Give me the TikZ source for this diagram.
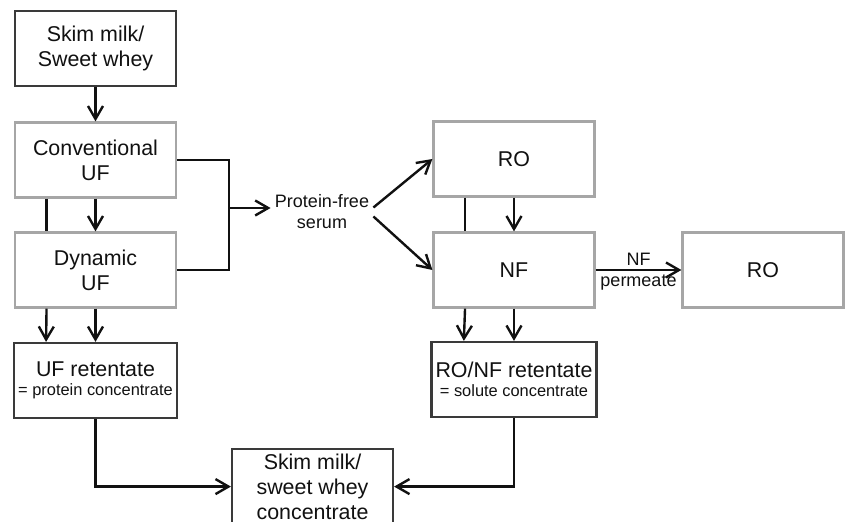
\documentclass[tikz,border=0pt]{standalone}
\usepackage{fontspec}
\setmainfont{Liberation Sans}
\usepackage{xcolor}
\usepackage{tikz}
\usetikzlibrary{arrows.meta,calc,positioning}
\definecolor{dfInk}{HTML}{111111}
\definecolor{dfEdge}{HTML}{3A3A3A}
\definecolor{dfUnit}{HTML}{A6A6A6}
\newcommand{\dfsmall}{\fontsize{8.2}{9.5}\selectfont}
\tikzset{
  df diagram/.style={x=0.5pt, y=-0.5pt, font=\fontsize{10.7}{12.5}\selectfont,
    text=dfInk},
  df box/.style={draw=dfEdge, fill=white, line width=1.1pt, align=center,
    minimum width=80.5pt, minimum height=37.5pt, inner sep=2pt},
  df unit/.style={df box, draw=dfUnit},
  df line/.style={draw=dfInk, line width=1.2pt},
  df arrow/.style={df line, -{Straight Barb[length=6.5pt,width=7.5pt]}},
  df label/.style={font=\fontsize{9}{10.5}\selectfont, align=center}
}

\begin{document}
\begin{tikzpicture}[df diagram]
\clip (0,0) rectangle (846,522);
\node[df box] (feed) at (95.5,48.5) {Skim milk/\\Sweet whey};
\node[df unit] (conv) at (95.5,160) {Conventional\\UF};
\node[df unit] (dyn) at (95.5,270) {Dynamic\\UF};
\node[df box] (ufret) at (95.5,380.5) {UF retentate\\[-3pt]{\dfsmall = protein concentrate}};
\node[df label, inner sep=2pt] (serum) at (322,212) {Protein-free\\serum};
\node[df unit] (ro) at (514,159) {RO};
\node[df unit] (nf) at (514,270) {NF};
\node[df unit] (polish) at (763,270) {RO};
\node[df box] (noret) at (514,379.5) {RO/NF retentate\\[-3pt]{\dfsmall = solute concentrate}};
\node[df box, anchor=north] (product) at (312.5,448) {Skim milk/\\sweet whey\\concentrate};
\coordinate (merge) at (229,208);
\draw[df arrow] (feed) -- (conv);
\draw[df line] ($(conv.south west)!.2!(conv.south east)$) -- ($(dyn.north west)!.2!(dyn.north east)$);
\draw[df arrow] (conv) -- (dyn);
\draw[df line] (conv.east) -| (merge) |- (dyn.east);
\draw[df arrow] (merge) -- (merge -| serum.west);
\draw[df arrow] ($(dyn.south west)!.2!(dyn.south east)$) -- ($(ufret.north west)!.2!(ufret.north east)$);
\draw[df arrow] (dyn) -- (ufret);
\draw[df arrow] (serum.5) -- (ro.west);
\draw[df arrow] (serum.-5) -- (nf.west);
\draw[df line] ($(ro.south west)!.2!(ro.south east)$) -- ($(nf.north west)!.2!(nf.north east)$);
\draw[df arrow] (ro) -- (nf);
\draw[df arrow] (nf) -- node[df label, above, inner sep=1.5pt] {NF}
  node[df label, below, inner sep=2pt] {permeate} (polish);
\draw[df arrow] ($(nf.south west)!.2!(nf.south east)$) -- ($(noret.north west)!.2!(noret.north east)$);
\draw[df arrow] (nf) -- (noret);
\draw[df arrow] (ufret.south) |- (product.west);
\draw[df arrow] (noret.south) |- (product.east);
\end{tikzpicture}
\end{document}
